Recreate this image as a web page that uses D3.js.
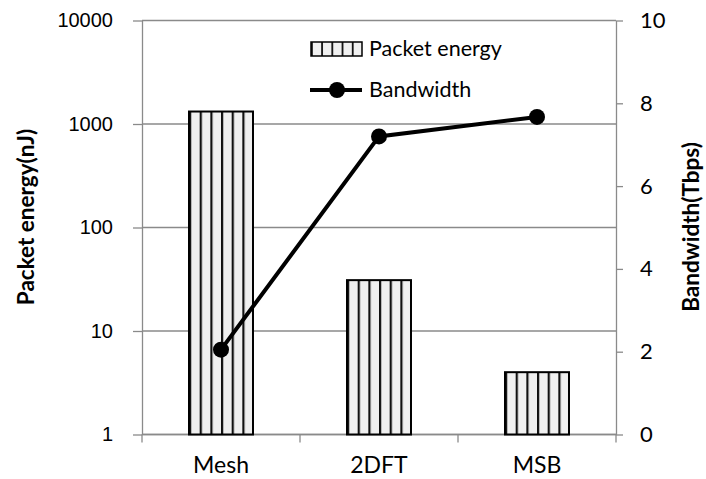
<!DOCTYPE html>
<html>
<head>
<meta charset="utf-8">
<script src="https://cdn.jsdelivr.net/npm/d3@7"></script>
<style>
  body { margin: 0; background: #fff; overflow: hidden; }
  text { font-family: Lato, "Liberation Sans", sans-serif; fill: #000; }
</style>
</head>
<body>
<svg id="chart"></svg>
<script>
// data
const categories = ["Mesh", "2DFT", "MSB"];
const packetEnergy = [1320, 31, 4.0];     // nJ, log axis
const bandwidth = [2.05, 7.2, 7.67];      // Tbps, right axis
const energyTicks = [1, 10, 100, 1000, 10000];
const bandwidthTicks = [0, 2, 4, 6, 8, 10];

// chart dimensions and margins
const width = 706;
const height = 479;
const marginTop = 20.5;
const marginRight = 90;
const marginBottom = 44.5;
const marginLeft = 142;
const axisColor = "#8a8a8a";

const svg = d3.select("#chart")
    .attr("width", width)
    .attr("height", height)
    .style("display", "block");

// pattern for the striped bars
const defs = svg.append("defs");
const pat = defs.append("pattern")
    .attr("id", "stripes")
    .attr("patternUnits", "objectBoundingBox")
    .attr("width", 1 / 6)
    .attr("height", 1);
pat.append("rect").attr("width", 20).attr("height", 1000).attr("fill", "#f0f0f0");
pat.append("rect").attr("x", 0).attr("width", 2.2).attr("height", 1000).attr("fill", "#111");

const legPat = defs.append("pattern")
    .attr("id", "stripesLegend")
    .attr("patternUnits", "userSpaceOnUse")
    .attr("x", 311)
    .attr("width", 10.2)
    .attr("height", 20);
legPat.append("rect").attr("width", 20).attr("height", 20).attr("fill", "#f0f0f0");
legPat.append("rect").attr("width", 1.8).attr("height", 20).attr("fill", "#111");

const x = d3.scaleBand()
    .domain(categories)
    .range([marginLeft, width - marginRight])
    .paddingInner(0.595)
    .paddingOuter(0.2975);

const y = d3.scaleLog()
    .domain([1, 10000])
    .range([height - marginBottom, marginTop]);

const y2 = d3.scaleLinear()
    .domain([0, 10])
    .range([height - marginBottom, marginTop]);

// gridlines
svg.append("g")
    .selectAll("line")
    .data(energyTicks)
    .join("line")
    .attr("x1", marginLeft)
    .attr("x2", width - marginRight)
    .attr("y1", d => y(d))
    .attr("y2", d => y(d))
    .attr("stroke", axisColor)
    .attr("stroke-width", 1.3);

// left axis
const gl = svg.append("g")
    .attr("transform", `translate(${marginLeft},0)`)
    .call(d3.axisLeft(y).tickValues(energyTicks).tickFormat(d3.format("d")).tickSize(9).tickSizeOuter(0).tickPadding(20));
gl.selectAll("text").style("font-family", "'Liberation Sans', Arial, sans-serif").style("font-size", "20px");

// right axis
const gr = svg.append("g")
    .attr("transform", `translate(${width - marginRight},0)`)
    .call(d3.axisRight(y2).tickValues(bandwidthTicks).tickSize(7).tickSizeOuter(0).tickPadding(17));
gr.selectAll("text").style("font-size", "22px");

[gl, gr].forEach(g => {
  g.select(".domain").attr("stroke", axisColor).attr("stroke-width", 1.3);
  g.selectAll(".tick line").attr("stroke", axisColor).attr("stroke-width", 1.3);
});

// bottom axis with ticks between categories
const xAxisY = height - marginBottom;
const gx = svg.append("g");
gx.append("line")
    .attr("x1", marginLeft).attr("x2", width - marginRight)
    .attr("y1", xAxisY).attr("y2", xAxisY)
    .attr("stroke", axisColor).attr("stroke-width", 1.3);
const boundaries = [...categories.map(c => x(c) - x.step() * x.paddingInner() / 2), width - marginRight];
gx.selectAll(".xt")
    .data(boundaries)
    .join("line")
    .attr("x1", d => d).attr("x2", d => d)
    .attr("y1", xAxisY).attr("y2", xAxisY + 8)
    .attr("stroke", axisColor).attr("stroke-width", 1.3);
gx.selectAll("text")
    .data(categories)
    .join("text")
    .attr("x", d => x(d) + x.bandwidth() / 2)
    .attr("y", 473)
    .attr("text-anchor", "middle")
    .style("font-size", "23px")
    .text(d => d);

// bars
svg.append("g")
    .selectAll("rect")
    .data(categories)
    .join("rect")
    .attr("x", d => x(d))
    .attr("y", (d, i) => y(packetEnergy[i]))
    .attr("width", x.bandwidth())
    .attr("height", (d, i) => y(1) - y(packetEnergy[i]))
    .attr("fill", "url(#stripes)")
    .attr("stroke", "#000")
    .attr("stroke-width", 2);

// bandwidth line
const pts = categories.map((c, i) => [x(c) + x.bandwidth() / 2, y2(bandwidth[i])]);
svg.append("path")
    .attr("d", d3.line()(pts))
    .attr("fill", "none")
    .attr("stroke", "#000")
    .attr("stroke-width", 4);
svg.append("g")
    .selectAll("circle")
    .data(pts)
    .join("circle")
    .attr("cx", d => d[0])
    .attr("cy", d => d[1])
    .attr("r", 8)
    .attr("fill", "#000");

// legend
const leg = svg.append("g");
leg.append("rect")
    .attr("x", 311).attr("y", 42).attr("width", 51).attr("height", 14)
    .attr("fill", "url(#stripesLegend)")
    .attr("stroke", "#000").attr("stroke-width", 1.5);
leg.append("text").attr("x", 369).attr("y", 56).style("font-size", "21.5px").text("Packet energy");
leg.append("line")
    .attr("x1", 310).attr("x2", 362).attr("y1", 90).attr("y2", 90)
    .attr("stroke", "#000").attr("stroke-width", 4);
leg.append("circle").attr("cx", 337).attr("cy", 90).attr("r", 8).attr("fill", "#000");
leg.append("text").attr("x", 369).attr("y", 97).style("font-size", "21.5px").text("Bandwidth");

// axis titles
svg.append("text")
    .attr("transform", "translate(34,217) rotate(-90)")
    .attr("text-anchor", "middle")
    .style("font-size", "22.5px")
    .style("font-weight", "bold")
    .text("Packet energy(nJ)");
svg.append("text")
    .attr("transform", "translate(699,227) rotate(-90)")
    .attr("text-anchor", "middle")
    .style("font-size", "22.5px")
    .style("font-weight", "bold")
    .text("Bandwidth(Tbps)");
</script>
</body>
</html>
